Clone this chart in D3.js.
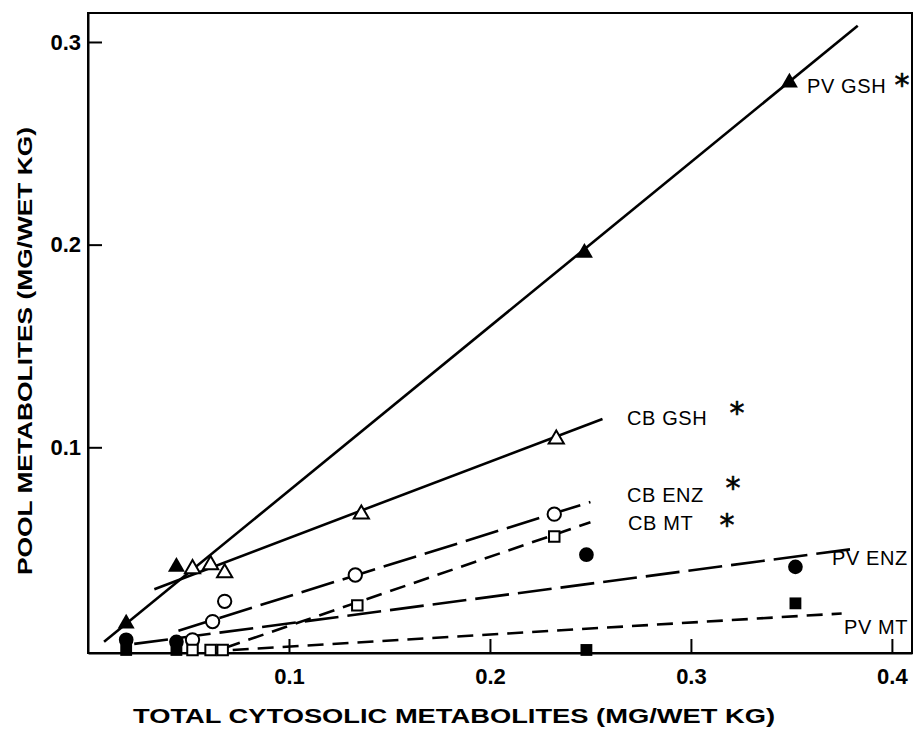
<!DOCTYPE html>
<html>
<head>
<meta charset="utf-8">
<script src="https://cdn.jsdelivr.net/npm/d3@7"></script>
<style>
  body { margin: 0; background: #fff; }
  svg { display: block; font-family: "Liberation Sans", Arial, Helvetica, sans-serif; }
</style>
</head>
<body>
<div id="chart"></div>
<script>
// measured points (total cytosolic vs pool metabolites, mg/wet kg)
const pvGshX = [0.019, 0.044, 0.247, 0.349];
const pvGshY = [0.013, 0.041, 0.196, 0.280];
const cbGshX = [0.052, 0.061, 0.068, 0.136, 0.233];
const cbGshY = [0.040, 0.042, 0.038, 0.067, 0.104];
const cbEnzX = [0.052, 0.062, 0.068, 0.133, 0.232];
const cbEnzY = [0.005, 0.014, 0.024, 0.037, 0.067];
const cbMtX  = [0.052, 0.061, 0.067, 0.134, 0.232];
const cbMtY  = [0, 0, 0, 0.022, 0.056];
const pvEnzX = [0.019, 0.044, 0.248, 0.352];
const pvEnzY = [0.005, 0.004, 0.047, 0.041];
const pvMtX  = [0.019, 0.044, 0.248, 0.352];
const pvMtY  = [0, 0, 0, 0.023];

// fitted lines, start and end (x, y)
const pvGshFitX = [0.008, 0.383], pvGshFitY = [0.004, 0.308];
const cbGshFitX = [0.033, 0.256], cbGshFitY = [0.030, 0.114];
const cbEnzFitX = [0.045, 0.250], cbEnzFitY = [0.0095, 0.073];
const cbMtFitX  = [0.068, 0.250], cbMtFitY  = [0.001, 0.063];
const pvEnzFitX = [0.023, 0.382], pvEnzFitY = [0.003, 0.050];
const pvMtFitX  = [0.072, 0.375], pvMtFitY  = [0.000, 0.018];

const xTicks = [0.1, 0.2, 0.3, 0.4];
const yTicks = [0.1, 0.2, 0.3];

const W = 917, H = 730;
const margin = {top: 13, right: 5, bottom: 77, left: 88};

const svg = d3.select("#chart").append("svg")
  .attr("width", W)
  .attr("height", H);

const x = d3.scaleLinear().domain([0, 0.41]).range([margin.left, W - margin.right]);
const y = d3.scaleLinear().domain([-0.0015, 0.3143]).range([H - margin.bottom, margin.top]);

// frame
svg.append("rect")
  .attr("x", margin.left).attr("y", margin.top)
  .attr("width", W - margin.right - margin.left)
  .attr("height", H - margin.bottom - margin.top)
  .attr("fill", "none").attr("stroke", "#000").attr("stroke-width", 2);

// axes, ticks pointing inward
const xAxis = svg.append("g")
  .attr("transform", `translate(0,${H - margin.bottom})`)
  .call(d3.axisBottom(x).tickValues(xTicks).tickFormat(d3.format(".1f"))
    .tickSizeInner(-14).tickSizeOuter(0).tickPadding(15));
const yAxis = svg.append("g")
  .attr("transform", `translate(${margin.left},0)`)
  .call(d3.axisLeft(y).tickValues(yTicks).tickFormat(d3.format(".1f"))
    .tickSizeInner(-14).tickSizeOuter(0).tickPadding(7));
[xAxis, yAxis].forEach(g => {
  g.select(".domain").attr("stroke-width", 2);
  g.selectAll(".tick line").attr("stroke-width", 2);
  g.selectAll(".tick text")
    .attr("font-size", 22).attr("font-weight", "bold")
    .attr("font-family", "Liberation Sans, Arial, sans-serif").attr("fill", "#000");
});

// axis titles
svg.append("text")
  .attr("x", 454).attr("y", 716).attr("dy", "0.35em")
  .attr("text-anchor", "middle")
  .attr("font-size", 21).attr("font-weight", "bold")
  .attr("textLength", 642).attr("lengthAdjust", "spacingAndGlyphs")
  .text("TOTAL CYTOSOLIC METABOLITES (MG/WET KG)");
svg.append("text")
  .attr("transform", "translate(25,351) rotate(-90)")
  .attr("dy", "0.35em")
  .attr("text-anchor", "middle")
  .attr("font-size", 21).attr("font-weight", "bold")
  .attr("textLength", 448).attr("lengthAdjust", "spacingAndGlyphs")
  .text("POOL METABOLITES (MG/WET KG)");

// fitted lines
const fits = [
  {xs: pvGshFitX, ys: pvGshFitY, dash: null},
  {xs: cbGshFitX, ys: cbGshFitY, dash: null},
  {xs: cbEnzFitX, ys: cbEnzFitY, dash: "34,9"},
  {xs: cbMtFitX,  ys: cbMtFitY,  dash: "16,9"},
  {xs: pvEnzFitX, ys: pvEnzFitY, dash: "34,9"},
  {xs: pvMtFitX,  ys: pvMtFitY,  dash: "16,9"}
];
const line = d3.line().x(d => x(d[0])).y(d => y(d[1]));
svg.selectAll("path.fit")
  .data(fits)
  .join("path")
    .attr("class", "fit")
    .attr("d", f => line(d3.zip(f.xs, f.ys)))
    .attr("fill", "none")
    .attr("stroke", "#000")
    .attr("stroke-width", 2.6)
    .attr("stroke-dasharray", f => f.dash);

// markers
const series = [
  {xs: cbGshX, ys: cbGshY, shape: d3.symbolTriangle, size: 100, filled: false},
  {xs: cbEnzX, ys: cbEnzY, shape: d3.symbolCircle,   size: 140, filled: false},
  {xs: cbMtX,  ys: cbMtY,  shape: d3.symbolSquare,   size: 110, filled: false},
  {xs: pvGshX, ys: pvGshY, shape: d3.symbolTriangle, size: 125, filled: true},
  {xs: pvEnzX, ys: pvEnzY, shape: d3.symbolCircle,   size: 170, filled: true},
  {xs: pvMtX,  ys: pvMtY,  shape: d3.symbolSquare,   size: 140, filled: true}
];
series.forEach(s => {
  svg.append("g")
    .selectAll("path")
    .data(d3.zip(s.xs, s.ys))
    .join("path")
      .attr("transform", d => `translate(${x(d[0])},${y(d[1])})`)
      .attr("d", d3.symbol().type(s.shape).size(s.size))
      .attr("fill", s.filled ? "#000" : "#fff")
      .attr("stroke", "#000")
      .attr("stroke-width", s.filled ? 0 : 2);
});

// series labels
const labels = [
  {t: "PV GSH", x: 807, y: 86, star: [902, 79]},
  {t: "CB GSH", x: 627, y: 418, star: [737, 407]},
  {t: "CB ENZ", x: 627, y: 495, star: [733, 482]},
  {t: "CB MT",  x: 628, y: 523, star: [727, 519]},
  {t: "PV ENZ", x: 832, y: 558, star: null},
  {t: "PV MT",  x: 844, y: 627, star: null}
];
labels.forEach(l => {
  svg.append("text")
    .attr("x", l.x).attr("y", l.y).attr("dy", "0.36em")
    .attr("font-size", 20)
    .attr("letter-spacing", 0.6)
    .attr("fill", "#000")
    .text(l.t);
  if (l.star) {
    svg.append("text")
      .attr("x", l.star[0]).attr("y", l.star[1] + 16)
      .attr("text-anchor", "middle")
      .attr("font-family", "DejaVu Sans, sans-serif")
      .attr("font-size", 30)
      .attr("fill", "#000")
      .attr("stroke", "#000")
      .attr("stroke-width", 0.6)
      .text("*");
  }
});
</script>
</body>
</html>
